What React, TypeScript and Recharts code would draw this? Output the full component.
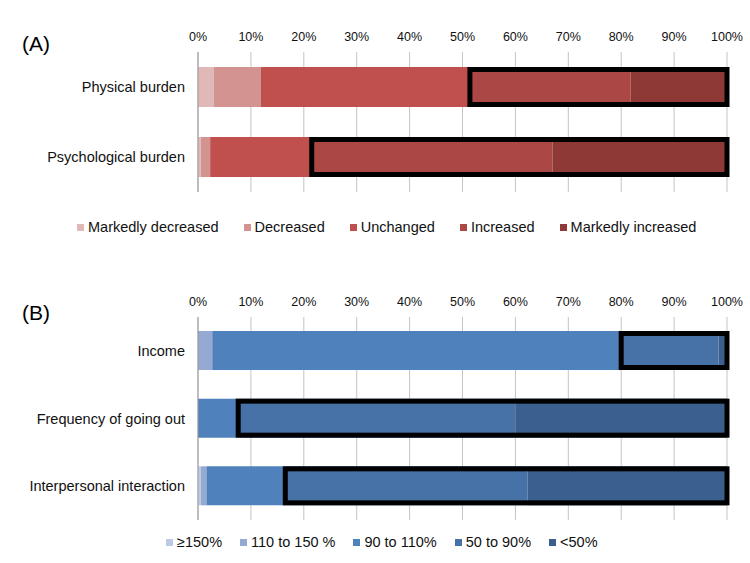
import React from "react";
import {
  BarChart,
  Bar,
  XAxis,
  YAxis,
  CartesianGrid,
} from "recharts";

// (A) burden
const burdenCategories = ["Physical burden", "Psychological burden"];
const burdenSeries = [
  "Markedly decreased",
  "Decreased",
  "Unchanged",
  "Increased",
  "Markedly increased",
];
const markedlyDecreased = [3.0, 0.5];
const decreased = [8.9, 1.8];
const unchanged = [39.5, 19.2];
const increased = [30.4, 45.5];
const markedlyIncreased = [18.2, 33.0];
const burdenColors = ["#e0b8b7", "#d39391", "#c0504d", "#ab4744", "#8e3936"];

// (B) change in living
const lifeCategories = [
  "Income",
  "Frequency of going out",
  "Interpersonal interaction",
];
const lifeSeries = ["≥150%", "110 to 150 %", "90 to 110%", "50 to 90%", "<50%"];
const over150 = [0, 0, 0.5];
const from110to150 = [2.7, 0, 1.1];
const from90to110 = [77.3, 7.6, 14.9];
const from50to90 = [18.4, 52.4, 45.8];
const under50 = [1.6, 40.0, 37.7];
const lifeColors = ["#bccae6", "#95a9d3", "#4f81bd", "#4672a7", "#3b5f8e"];

const percentTicks = [0, 10, 20, 30, 40, 50, 60, 70, 80, 90, 100];

const FONT = "'Liberation Sans', Arial, sans-serif";

const burdenData = burdenCategories.map((name, i) => ({
  name,
  s0: markedlyDecreased[i],
  s1: decreased[i],
  s2: unchanged[i],
  s3: increased[i],
  s4: markedlyIncreased[i],
}));

const lifeData = lifeCategories.map((name, i) => ({
  name,
  s0: over150[i],
  s1: from110to150[i],
  s2: from90to110[i],
  s3: from50to90[i],
  s4: under50[i],
}));

// last segment also draws the black frame round the last two segments
const FramedShape = (props: any) => {
  const { x, y, width, height, fill, payload } = props;
  const ppu = payload.s4 > 0 ? width / payload.s4 : 0;
  const startX = x - payload.s3 * ppu;
  return (
    <g>
      <rect x={x} y={y} width={width} height={height} fill={fill} />
      <rect
        x={startX}
        y={y + 2.5}
        width={x + width - startX}
        height={height - 5}
        fill="none"
        stroke="#000"
        strokeWidth={5}
      />
    </g>
  );
};

const HtmlLegend = ({
  names,
  colors,
  top,
  left,
  gap,
}: {
  names: string[];
  colors: string[];
  top: number;
  left: number;
  gap: number;
}) => (
  <div
    style={{
      position: "absolute",
      top,
      left,
      display: "flex",
      alignItems: "center",
      fontFamily: FONT,
      fontSize: 14.5,
      color: "#111",
      whiteSpace: "nowrap",
    }}
  >
    {names.map((n, i) => (
      <div
        key={n}
        style={{ display: "flex", alignItems: "center", marginRight: gap }}
      >
        <span
          style={{
            width: 7,
            height: 7,
            backgroundColor: colors[i],
            marginRight: 4,
            display: "inline-block",
          }}
        />
        <span>{n}</span>
      </div>
    ))}
  </div>
);

const StackChart = ({
  data,
  colors,
  names,
  height,
  marginTop,
  marginBottom,
  barSize,
}: any) => (
  <BarChart
    width={750}
    height={height}
    data={data}
    layout="vertical"
    margin={{ top: marginTop, right: 23, left: 0, bottom: marginBottom }}
  >
    <CartesianGrid horizontal={false} stroke="#c4c4c4" />
    <XAxis
      type="number"
      orientation="top"
      domain={[0, 100]}
      ticks={percentTicks}
      tickFormatter={(v: number) => `${v}%`}
      axisLine={false}
      tickLine={false}
      tickMargin={5}
      height={30}
      tick={{ fontSize: 12.5, fill: "#111", fontFamily: FONT }}
      interval={0}
    />
    <YAxis
      type="category"
      dataKey="name"
      width={198}
      axisLine={{ stroke: "#999" }}
      tickLine={false}
      tickSize={0}
      tickMargin={13}
      tick={{ fontSize: 14.5, fill: "#111", fontFamily: FONT }}
    />
    {names.map((n: string, i: number) => (
      <Bar
        key={n}
        dataKey={`s${i}`}
        name={n}
        stackId="a"
        fill={colors[i]}
        barSize={barSize}
        isAnimationActive={false}
        shape={i === 4 ? FramedShape : undefined}
      />
    ))}
  </BarChart>
);

export default function App() {
  return (
    <div
      style={{
        position: "absolute",
        top: 0,
        left: 0,
        width: 750,
        height: 563,
        background: "#fff",
        fontFamily: FONT,
      }}
    >
      <div style={{ position: "absolute", top: 0, left: 0 }}>
        <StackChart
          data={burdenData}
          colors={burdenColors}
          names={burdenSeries}
          height={200}
          marginTop={22}
          marginBottom={8}
          barSize={40}
        />
      </div>
      <div
        style={{ position: "absolute", top: 32, left: 22, fontSize: 21 }}
      >
        (A)
      </div>
      <HtmlLegend
        names={burdenSeries}
        colors={burdenColors}
        top={219}
        left={77}
        gap={25}
      />

      <div style={{ position: "absolute", top: 260, left: 0 }}>
        <StackChart
          data={lifeData}
          colors={lifeColors}
          names={lifeSeries}
          height={270}
          marginTop={27}
          marginBottom={10}
          barSize={39}
        />
      </div>
      <div
        style={{ position: "absolute", top: 301, left: 22, fontSize: 21 }}
      >
        (B)
      </div>
      <HtmlLegend
        names={lifeSeries}
        colors={lifeColors}
        top={534}
        left={166}
        gap={18}
      />
    </div>
  );
}
